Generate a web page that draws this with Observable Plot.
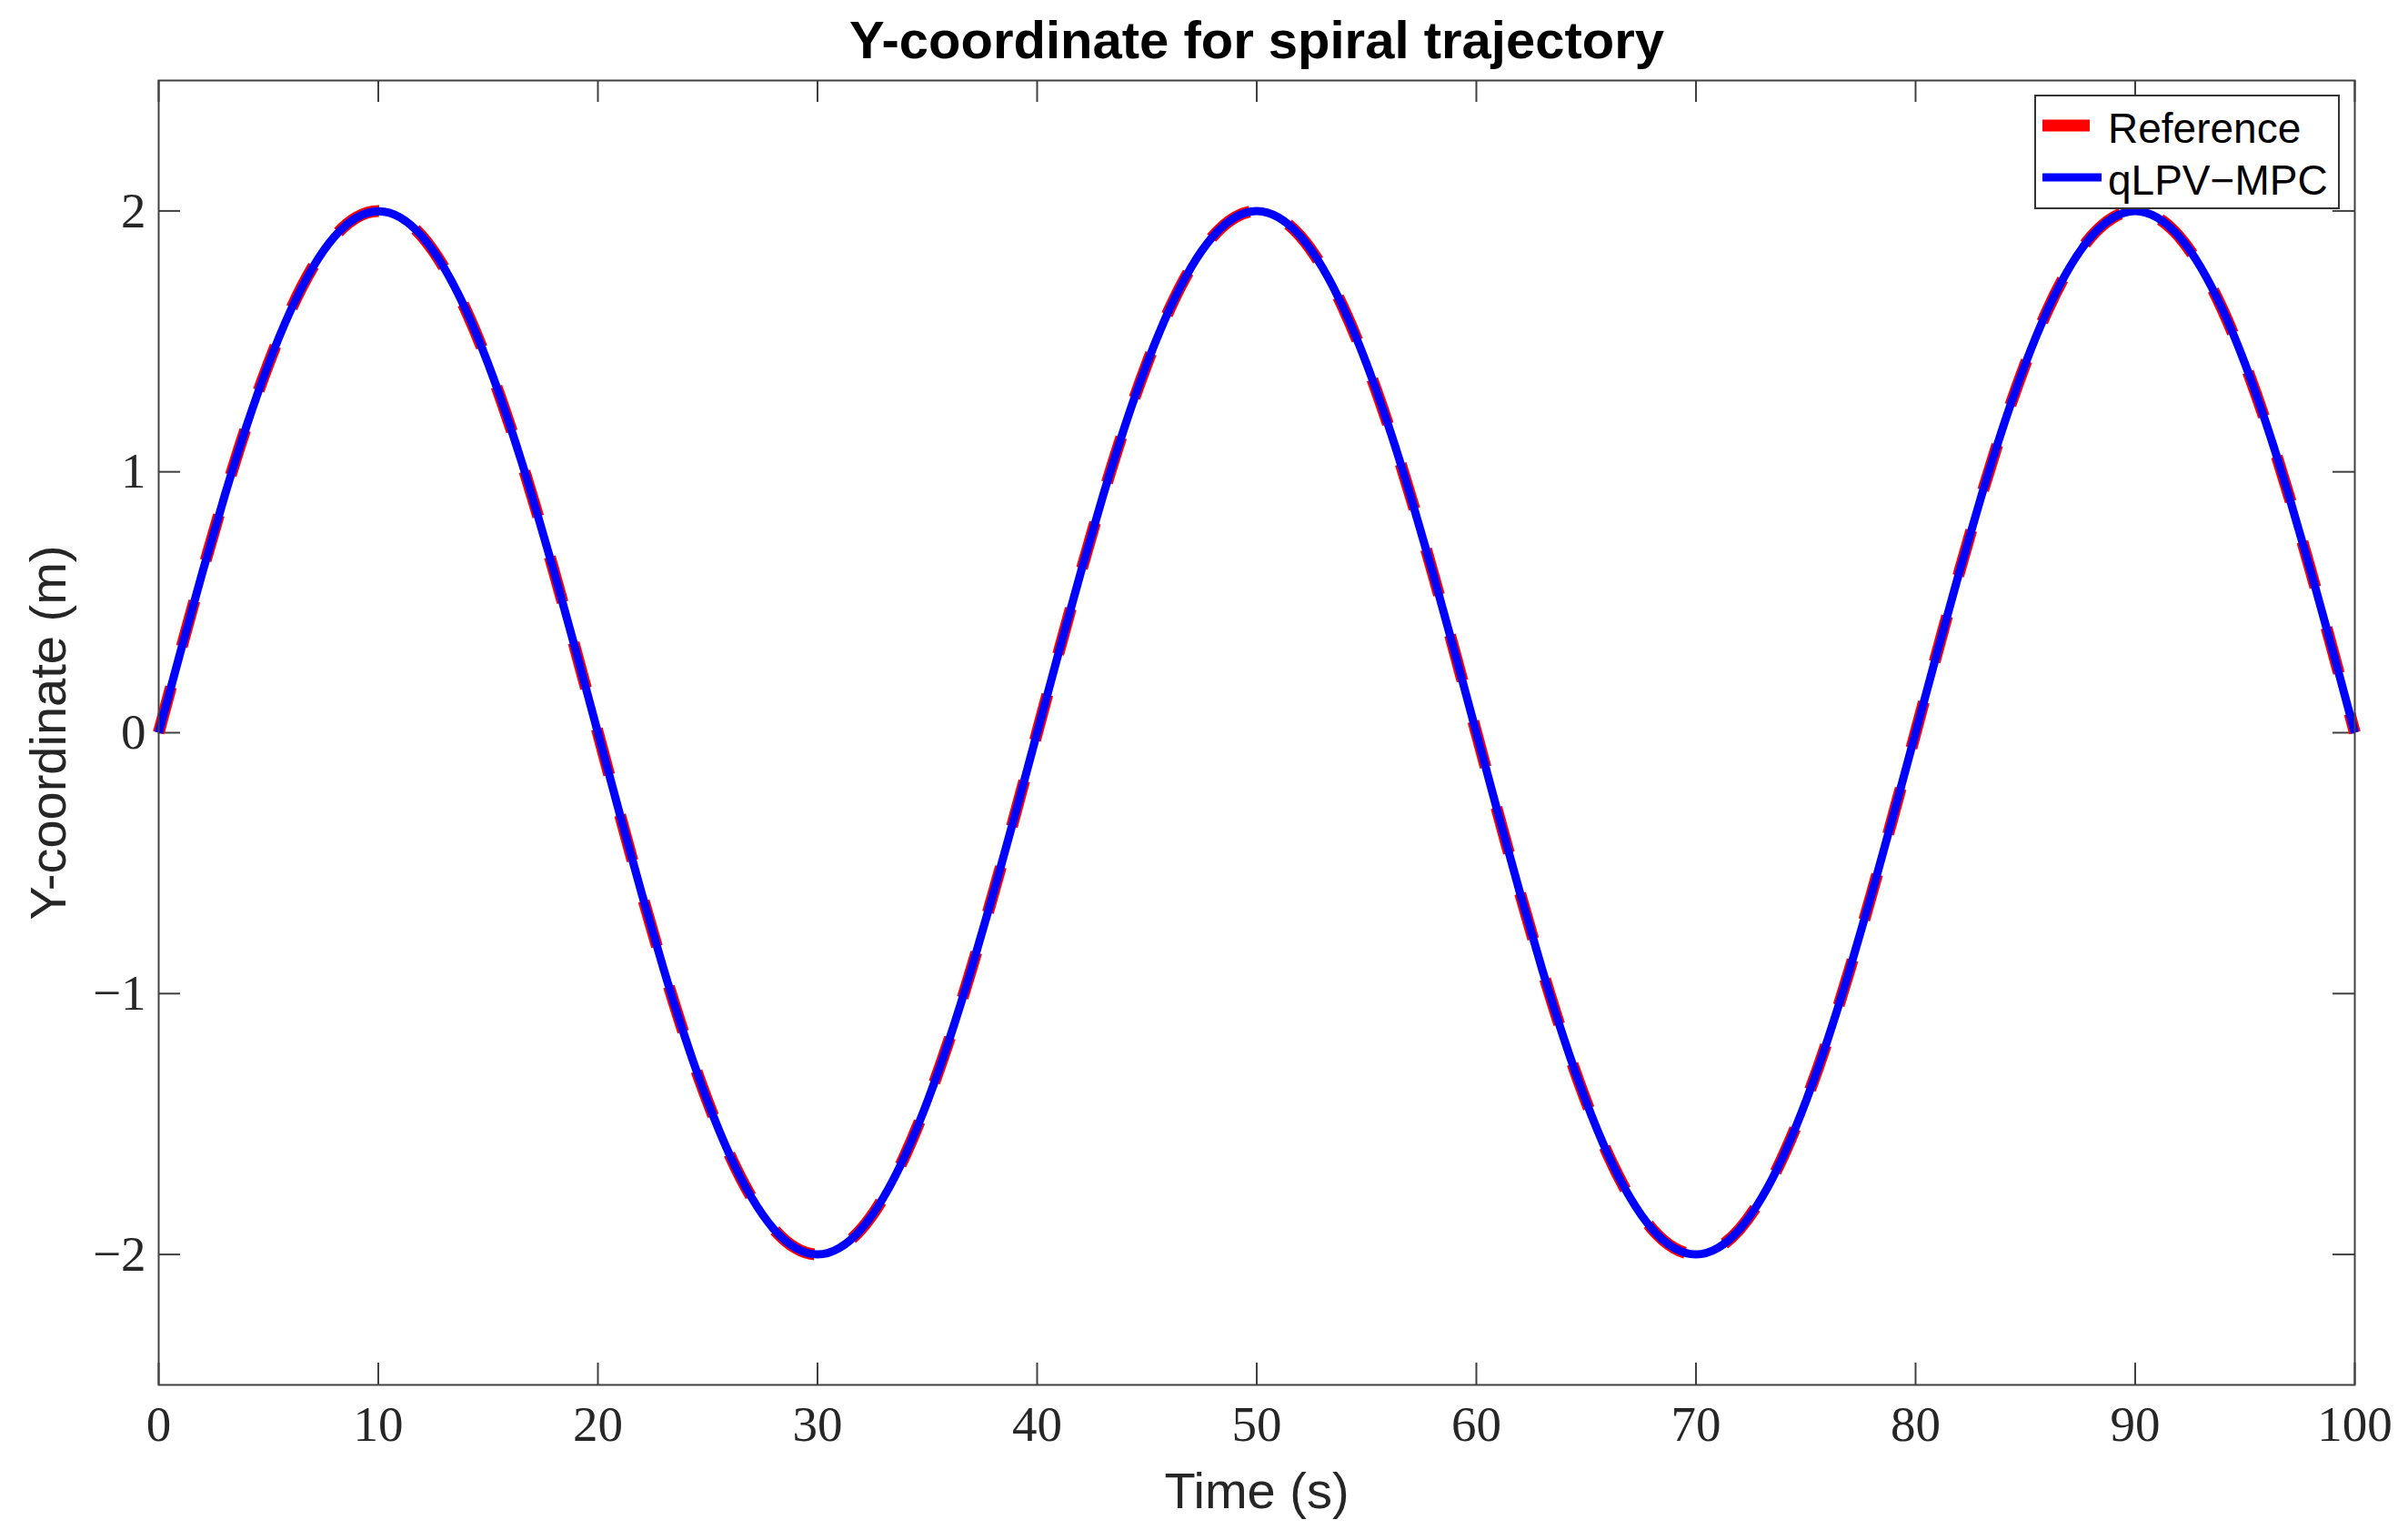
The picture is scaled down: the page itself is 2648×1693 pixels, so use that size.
<!DOCTYPE html>
<html>
<head>
<meta charset="utf-8">
<script src="https://cdn.jsdelivr.net/npm/d3@7"></script>
<script src="https://cdn.jsdelivr.net/npm/@observablehq/plot@0.6"></script>
<style>
  html, body { margin: 0; padding: 0; background: white; }
  #wrap { position: relative; width: 2648px; height: 1693px; }
  #legend { position: absolute; left: 2237px; top: 104px; }
</style>
</head>
<body>
<div id="wrap"></div>
<script>
// ---- data ----
const time = [0,1,2,3,4,5,6,7,8,9,10,11,12,13,14,15,16,17,18,19,20,21,22,23,24,25,26,27,28,29,30,31,32,33,34,35,36,37,38,39,40,41,42,43,44,45,46,47,48,49,50,51,52,53,54,55,56,57,58,59,60,61,62,63,64,65,66,67,68,69,70,71,72,73,74,75,76,77,78,79,80,81,82,83,84,85,86,87,88,89,90,91,92,93,94,95,96,97,98,99,100];
const referenceY = [0,0.313,0.618,0.908,1.176,1.414,1.618,1.782,1.902,1.975,2,1.975,1.902,1.782,1.618,1.414,1.176,0.908,0.618,0.313,0,-0.313,-0.618,-0.908,-1.176,-1.414,-1.618,-1.782,-1.902,-1.975,-2,-1.975,-1.902,-1.782,-1.618,-1.414,-1.176,-0.908,-0.618,-0.313,
  0,0.313,0.618,0.908,1.176,1.414,1.618,1.782,1.902,1.975,2,1.975,1.902,1.782,1.618,1.414,1.176,0.908,0.618,0.313,0,-0.313,-0.618,-0.908,-1.176,-1.414,-1.618,-1.782,-1.902,-1.975,-2,-1.975,-1.902,-1.782,-1.618,-1.414,-1.176,-0.908,-0.618,-0.313,
  0,0.313,0.618,0.908,1.176,1.414,1.618,1.782,1.902,1.975,2,1.975,1.902,1.782,1.618,1.414,1.176,0.908,0.618,0.313,0];
const mpcY = [0,0.312,0.617,0.907,1.175,1.413,1.617,1.781,1.901,1.974,1.999,1.975,1.902,1.782,1.618,1.414,1.176,0.908,0.618,0.313,0,-0.313,-0.618,-0.908,-1.176,-1.414,-1.618,-1.782,-1.902,-1.975,-2,-1.975,-1.902,-1.782,-1.618,-1.414,-1.176,-0.908,-0.618,-0.313,
  0,0.313,0.618,0.908,1.176,1.414,1.618,1.782,1.902,1.975,2,1.975,1.902,1.782,1.618,1.414,1.176,0.908,0.618,0.313,0,-0.313,-0.618,-0.908,-1.176,-1.414,-1.618,-1.782,-1.902,-1.975,-2,-1.975,-1.902,-1.782,-1.618,-1.414,-1.176,-0.908,-0.618,-0.313,
  0,0.313,0.618,0.908,1.176,1.414,1.618,1.782,1.902,1.975,2,1.975,1.902,1.782,1.618,1.414,1.176,0.908,0.618,0.313,0];
const xTicks = [0,10,20,30,40,50,60,70,80,90,100];
const yTicks = [-2,-1,0,1,2];
const seriesNames = ["Reference", "qLPV\u2212MPC"];
const titleText = "Y-coordinate for spiral trajectory";
const xLabel = "Time (s)";
const yLabel = "Y-coordinate (m)";

const rows = time.map((t, i) => ({t, ref: referenceY[i], mpc: mpcY[i]}));

const axisColor = "#404040";
const tickFmt = d => d < 0 ? "\u2212" + (-d) : String(d);

const W = 2648, H = 1693, mL = 174, mR = 59, mT = 88, mB = 171;
const frameW = W - mL - mR, frameH = H - mT - mB, tickLen = 24;

const chart = Plot.plot({
  width: W, height: H,
  marginLeft: mL, marginRight: mR, marginTop: mT, marginBottom: mB,
  x: {domain: [0, 100]},
  y: {domain: [-2.5, 2.5]},
  style: {background: "white", color: "#262626"},
  marks: [
    Plot.tickX(xTicks, {x: d => d, insetTop: frameH - tickLen, stroke: axisColor, strokeWidth: 2}),
    Plot.tickX(xTicks, {x: d => d, insetBottom: frameH - tickLen, stroke: axisColor, strokeWidth: 2}),
    Plot.tickY(yTicks, {y: d => d, insetRight: frameW - tickLen, stroke: axisColor, strokeWidth: 2}),
    Plot.tickY(yTicks, {y: d => d, insetLeft: frameW - tickLen, stroke: axisColor, strokeWidth: 2}),
    Plot.axisX(xTicks, {tickSize: 0, tickPadding: 22, tickFormat: tickFmt, fontSize: 55, fontFamily: "Liberation Serif", fill: "#262626", label: null}),
    Plot.axisY(yTicks, {tickSize: 0, tickPadding: 14, tickFormat: tickFmt, fontSize: 55, fontFamily: "Liberation Serif", fill: "#262626", label: null}),
    Plot.line(rows, {x: "t", y: "ref", stroke: "#ff0000", strokeWidth: 13, strokeDasharray: "52,46", curve: "natural", strokeLinecap: "butt", strokeLinejoin: "round"}),
    Plot.line(rows, {x: "t", y: "mpc", stroke: "#0000ff", strokeWidth: 9, curve: "natural", strokeLinecap: "butt", strokeLinejoin: "round"}),
    Plot.frame({stroke: axisColor, strokeWidth: 2}),
    Plot.text([titleText], {text: d => d, frameAnchor: "top", lineAnchor: "middle", textAnchor: "middle", dy: -43, fontSize: 58, fontWeight: "bold", fontFamily: "Liberation Sans", fill: "#000"}),
    Plot.text([xLabel], {text: d => d, frameAnchor: "bottom", lineAnchor: "middle", textAnchor: "middle", dy: 118, fontSize: 56, fontFamily: "Liberation Sans", fill: "#262626"}),
    Plot.text([yLabel], {text: d => d, frameAnchor: "left", lineAnchor: "middle", textAnchor: "middle", dx: -120, rotate: -90, fontSize: 56, fontFamily: "Liberation Sans", fill: "#262626"})
  ]
});

const wrap = document.getElementById("wrap");
wrap.appendChild(chart);

// legend (box in the top-right of the frame)
const ns = "http://www.w3.org/2000/svg";
const lg = document.createElementNS(ns, "svg");
lg.setAttribute("id", "legend");
lg.setAttribute("width", 336);
lg.setAttribute("height", 126);
lg.innerHTML = `
  <rect x="1" y="1" width="334" height="124" fill="white" stroke="#333" stroke-width="2"/>
  <line x1="9" x2="74" y1="34" y2="34" stroke="#ff0000" stroke-width="13" stroke-dasharray="52,46"/>
  <line x1="9" x2="74" y1="91" y2="91" stroke="#0000ff" stroke-width="9"/>
  <text x="81" y="53" font-family="Liberation Sans" font-size="46" fill="#000">${seriesNames[0]}</text>
  <text x="81" y="110" font-family="Liberation Sans" font-size="46" fill="#000">${seriesNames[1]}</text>`;
wrap.appendChild(lg);
</script>
</body>
</html>
